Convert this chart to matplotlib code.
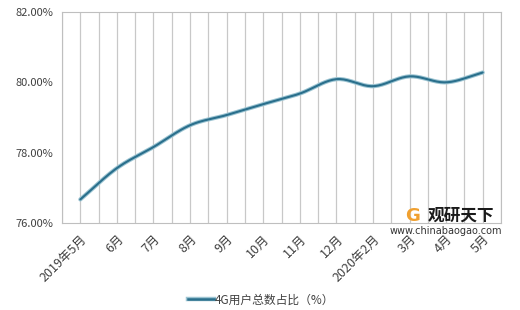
import matplotlib.pyplot as plt
import numpy as np
from matplotlib.lines import Line2D
import matplotlib.patheffects as pe

plt.rcParams['font.family'] = ['Noto Sans CJK SC', 'DejaVu Sans']

meses = ['2019年5月', '6月', '7月', '8月', '9月', '10月', '11月', '12月',
         '2020年2月', '3月', '4月', '5月']
ratio = [76.67, 77.56, 78.16, 78.78, 79.07, 79.38, 79.68, 80.09,
         79.89, 80.17, 80.00, 80.28]


def suave(x, y, n=20):
    # curva tipo Excel (Catmull-Rom) solo para dibujar
    x = np.asarray(x, float)
    y = np.asarray(y, float)
    px = np.concatenate([[2*x[0]-x[1]], x, [2*x[-1]-x[-2]]])
    py = np.concatenate([[2*y[0]-y[1]], y, [2*y[-1]-y[-2]]])
    xs, ys = [], []
    t = np.linspace(0, 1, n, endpoint=False)
    for i in range(1, len(px)-2):
        for p, out in ((px, xs), (py, ys)):
            p0, p1, p2, p3 = p[i-1], p[i], p[i+1], p[i+2]
            out.extend(0.5*((2*p1) + (-p0+p2)*t + (2*p0-5*p1+4*p2-p3)*t**2
                            + (-p0+3*p1-3*p2+p3)*t**3))
    xs.append(x[-1])
    ys.append(y[-1])
    return np.array(xs), np.array(ys)


fig = plt.figure(figsize=(5.2, 3.1), dpi=100)
ax = fig.add_axes([62/520, 1-223/310, 439/520, 211/310])

x = np.arange(len(meses))
sx, sy = suave(x, ratio)
ax.plot(sx, sy, color='#9cc4d2', lw=3.0, solid_capstyle='round', zorder=3)
ax.plot(sx, sy, color='#2a6f8c', lw=1.5, solid_capstyle='round', zorder=4)

ax.set_xlim(-0.5, len(meses)-0.5)
ax.set_ylim(76, 82)
ax.set_yticks([76, 78, 80, 82])
ax.set_yticklabels(['%.2f%%' % v for v in [76, 78, 80, 82]], fontsize=8, color='#404040')
ax.set_xticks(x)
ax.set_xticklabels(meses, rotation=45, ha='right', rotation_mode='anchor',
                   fontsize=9, color='#404040')
for g in np.arange(-0.5, len(meses), 0.5):
    ax.axvline(g, color='#c8c8c8', lw=0.9, zorder=1)
for s in ax.spines.values():
    s.set_color('#bfbfbf')
ax.tick_params(axis='x', length=0, pad=7)
ax.tick_params(axis='y', length=0, pad=6)

leg = Line2D([0], [0], color='#2a6f8c', lw=1.8,
             path_effects=[pe.Stroke(linewidth=3.2, foreground='#9cc4d2'), pe.Normal()])
fig.legend([leg], ['4G用户总数占比（%）'], loc='center', bbox_to_anchor=(261/520, 1-300/310),
           frameon=False, fontsize=8.5, handlelength=2.2, handletextpad=0.1,
           labelcolor='#404040')

# marca de agua
fig.text(428/520, 1-216/310, '观研天下', fontsize=12, fontweight='bold',
         color='#1a1a1a', va='center', ha='left', zorder=10)
fig.text(446/520, 1-231/310, 'www.chinabaogao.com', fontsize=7, color='#333333',
         va='center', ha='center', family='DejaVu Sans', zorder=10)
fig.text(413/520, 1-216/310, 'G', fontsize=13, fontweight='bold', color='#f0a030',
         va='center', ha='center', family='DejaVu Sans', zorder=10)

fig.savefig('out.png', dpi=100)
